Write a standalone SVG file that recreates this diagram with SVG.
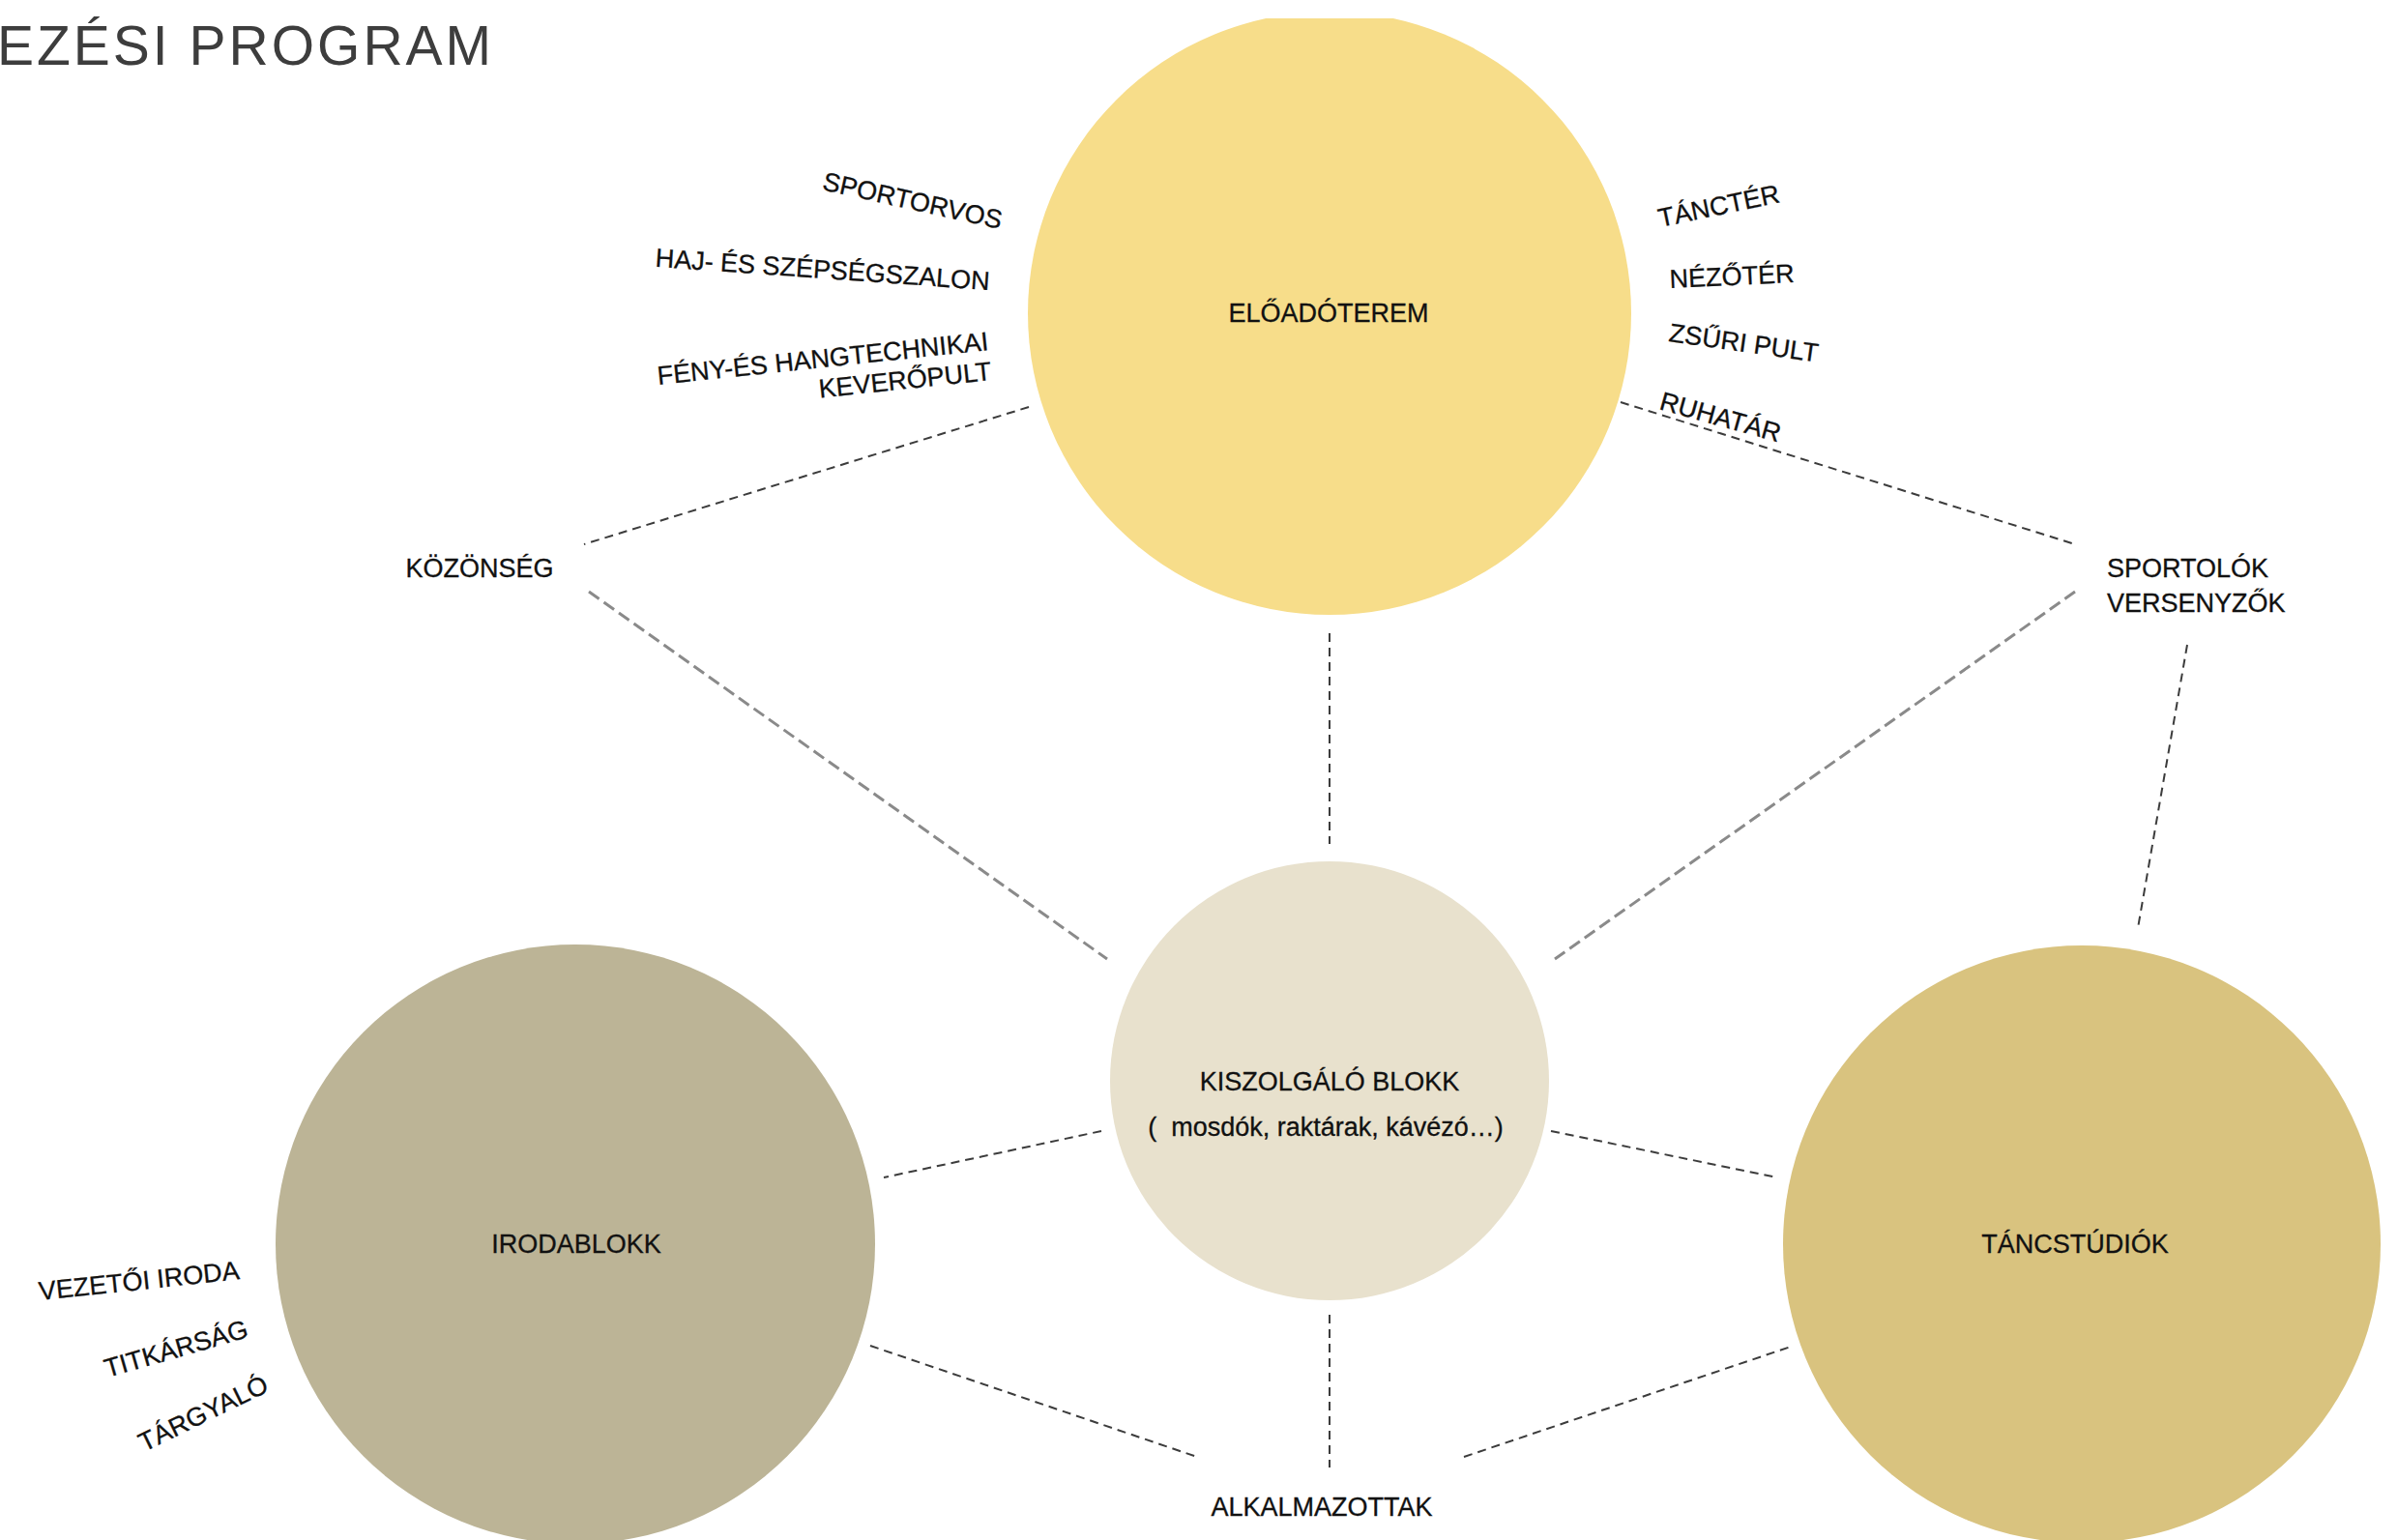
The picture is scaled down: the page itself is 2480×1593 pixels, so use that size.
<svg xmlns="http://www.w3.org/2000/svg" width="2480" height="1593" viewBox="0 0 2480 1593">
<defs>
<style>
.lbl{font-family:"Liberation Sans",Arial,sans-serif;font-size:27px;fill:#111;stroke:#111;stroke-width:0.3;}
.title{font-family:"Liberation Sans",Arial,sans-serif;font-size:57px;fill:#3d3d3d;letter-spacing:3px;}
.dk{stroke:#3c3c3c;stroke-width:2;stroke-dasharray:9 6;fill:none;}
.gr{stroke:#8a8a8a;stroke-width:3;stroke-dasharray:13 6;fill:none;}
</style>
<clipPath id="topclip"><rect x="0" y="19" width="2480" height="1574"/></clipPath>
</defs>
<rect x="0" y="0" width="2480" height="1593" fill="#ffffff"/>
<text class="title" x="-3" y="67">EZÉSI PROGRAM</text>

<g id="connectors">
<line class="dk" x1="1064" y1="421" x2="604" y2="563"/>
<line class="gr" x1="609" y1="612" x2="1145" y2="992"/>
<line class="dk" x1="1375" y1="655" x2="1375" y2="873"/>
<line class="dk" x1="1676" y1="416" x2="2146" y2="563"/>
<line class="gr" x1="2146" y1="612" x2="1608" y2="992"/>
<line class="dk" x1="2262" y1="667" x2="2211" y2="960"/>
<line class="dk" x1="1139" y1="1170" x2="914" y2="1218"/>
<line class="dk" x1="1604" y1="1170" x2="1838" y2="1218"/>
<line class="dk" x1="900" y1="1392" x2="1238" y2="1507"/>
<line class="dk" x1="1375" y1="1360" x2="1375" y2="1518"/>
<line class="dk" x1="1514" y1="1507" x2="1855" y2="1392"/>
</g>

<g id="eloadoterem">
<circle cx="1375" cy="324" r="312" fill="#f7dd8a" clip-path="url(#topclip)"/>
<text class="lbl" x="1374" y="333" text-anchor="middle">ELŐADÓTEREM</text>
</g>

<g id="kiszolgalo">
<circle cx="1375" cy="1118" r="227" fill="#e8e1cd"/>
<text class="lbl" x="1375" y="1128" text-anchor="middle">KISZOLGÁLÓ BLOKK</text>
<text class="lbl" x="1371" y="1175" text-anchor="middle" xml:space="preserve">(  mosdók, raktárak, kávézó…)</text>
</g>

<g id="irodablokk">
<circle cx="595" cy="1287" r="310" fill="#bcb496"/>
<text class="lbl" x="596" y="1296" text-anchor="middle">IRODABLOKK</text>
</g>

<g id="tancstudiok">
<circle cx="2153" cy="1287" r="309" fill="#d9c37f"/>
<text class="lbl" x="2146" y="1296" text-anchor="middle">TÁNCSTÚDIÓK</text>
</g>

<g id="kozonseg"><text class="lbl" x="496" y="597" text-anchor="middle">KÖZÖNSÉG</text></g>
<g id="sportolok">
<text class="lbl" x="2179" y="597">SPORTOLÓK</text>
<text class="lbl" x="2179" y="633">VERSENYZŐK</text>
</g>
<g id="alkalmazottak"><text class="lbl" x="1367" y="1568" text-anchor="middle">ALKALMAZOTTAK</text></g>

<g id="eloado-left-labels">
<text class="lbl" text-anchor="end" transform="translate(1034,237) rotate(12.5)">SPORTORVOS</text>
<text class="lbl" text-anchor="end" transform="translate(1023,300) rotate(4)">HAJ- ÉS SZÉPSÉGSZALON</text>
<g transform="translate(1023,362) rotate(-6)">
<text class="lbl" x="0" y="0" text-anchor="end">FÉNY-ÉS HANGTECHNIKAI</text>
<text class="lbl" x="0" y="31" text-anchor="end">KEVERŐPULT</text>
</g>
</g>

<g id="eloado-right-labels">
<text class="lbl" transform="translate(1717,235) rotate(-11.7)">TÁNCTÉR</text>
<text class="lbl" transform="translate(1727,298) rotate(-2.7)">NÉZŐTÉR</text>
<text class="lbl" transform="translate(1725,353) rotate(8)">ZSŰRI PULT</text>
<text class="lbl" transform="translate(1715,423) rotate(15.5)">RUHATÁR</text>
</g>

<g id="iroda-labels">
<text class="lbl" transform="translate(41,1345) rotate(-6)">VEZETŐI IRODA</text>
<text class="lbl" transform="translate(111,1425) rotate(-16)">TITKÁRSÁG</text>
<text class="lbl" transform="translate(149,1502) rotate(-26)">TÁRGYALÓ</text>
</g>
</svg>
